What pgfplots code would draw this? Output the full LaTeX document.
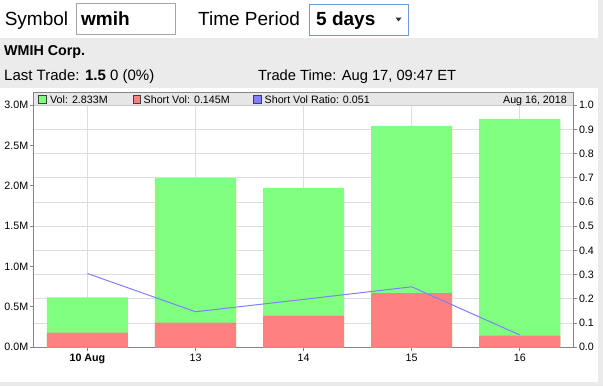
\documentclass[border=0pt]{standalone}
\usepackage{pgfplots}
\pgfplotsset{compat=1.18}
\usepackage{fontspec}
\setmainfont{Liberation Sans}
\definecolor{bggray}{HTML}{EBEBEB}
\definecolor{bandgray}{HTML}{E6E6E6}
\definecolor{gridgray}{HTML}{DDDDDD}
\definecolor{axisgray}{HTML}{858585}
\definecolor{volgreen}{HTML}{80FF80}
\definecolor{shortred}{HTML}{FF8080}
\definecolor{ratioblue}{HTML}{8080FF}
\definecolor{boxgray}{HTML}{A5A5A5}
\definecolor{focusblue}{HTML}{6E9BE0}
\newcommand{\tl}{\fontsize{10.7}{12}\selectfont}
\begin{document}
\begin{tikzpicture}
\begin{scope}[x=1pt,y=-1pt]
\path[use as bounding box] (0,0) rectangle (603,386);
\fill[bggray] (0,0) rectangle (603,386);
\fill[white] (0,0) rectangle (598,37.5);
\fill[white] (0,88) rectangle (598,382);
% header
\node[anchor=base west, inner sep=0, font=\fontsize{19}{22}\selectfont] at (4.6,25) {Symbol};
\draw[boxgray, line width=1pt] (76.5,3.5) rectangle (175.5,34);
\node[anchor=base west, inner sep=0, font=\fontsize{19}{22}\selectfont\bfseries] at (81,25) {wmih};
\node[anchor=base west, inner sep=0, font=\fontsize{19}{22}\selectfont] at (198,25) {Time Period};
\draw[focusblue, line width=1pt] (309.5,4.5) rectangle (408,35.5);
\node[anchor=base west, inner sep=0, font=\fontsize{19}{22}\selectfont\bfseries] at (316,25) {5 days};
\fill[black!80] (395.5,17.5) -- (401.5,17.5) -- (398.5,21.5) -- cycle;
\node[anchor=base west, inner sep=0, font=\fontsize{14.3}{17}\selectfont\bfseries] at (4,55.5) {WMIH Corp.};
\node[anchor=base west, inner sep=0, font=\fontsize{15}{18}\selectfont] at (4,80) {Last Trade: \textbf{1.5} 0 (0\%)};
\node[anchor=base west, inner sep=0, font=\fontsize{14.7}{18}\selectfont] at (258,80) {Trade Time: Aug 17, 09:47 ET};
\end{scope}

\begin{axis}[
  at={(33.4pt,-347.3pt)}, anchor=south west,
  scale only axis, width=540.4pt, height=255.3pt,
  xmin=-0.5, xmax=4.5, ymin=0, ymax=3.165,
  xtick={0,1,2,3,4}, xticklabels={\textbf{10 Aug},13,14,15,16},
  ytick={0,0.5,1,1.5,2,2.5,3},
  yticklabels={0.0M,0.5M,1.0M,1.5M,2.0M,2.5M,3.0M},
  minor ytick={0.3,0.6,0.9,1.2,1.5,1.8,2.1,2.4,2.7},
  xmajorgrids, yminorgrids, ymajorgrids=false,
  grid style={draw=gridgray, line width=1pt},
  minor grid style={draw=gridgray, line width=1pt},
  major grid style={draw=gridgray, line width=1pt},
  minor tick length=0pt, major tick length=3.5pt,
  tick align=outside, xtick pos=bottom, ytick pos=left,
  axis line style={draw=axisgray, line width=1pt},
  major tick style={draw=axisgray, line width=1pt},
  minor tick style={draw=none},
  tick label style={font=\tl},
  yticklabel style={inner sep=1.5pt},
  xticklabel style={inner sep=2pt, yshift=-1pt},
]
\addplot[ybar, bar width=0.75, bar shift=0pt, fill=volgreen, draw=none]
  coordinates {(0,0.620) (1,2.098) (2,1.974) (3,2.746) (4,2.833)};
\addplot[ybar, bar width=0.75, bar shift=0pt, fill=shortred, draw=none]
  coordinates {(0,0.181) (1,0.305) (2,0.392) (3,0.673) (4,0.145)};
\end{axis}

\begin{axis}[
  at={(33.4pt,-347.3pt)}, anchor=south west,
  scale only axis, width=540.4pt, height=255.3pt,
  xmin=-0.5, xmax=4.5, ymin=0, ymax=1.055,
  axis x line=none, axis y line*=right,
  ytick={0,0.1,0.2,0.3,0.4,0.5,0.6,0.7,0.8,0.9,1.0},
  yticklabels={0.0,0.1,0.2,0.3,0.4,0.5,0.6,0.7,0.8,0.9,1.0},
  major tick length=3.5pt, tick align=outside, ytick pos=right,
  axis line style={draw=axisgray, line width=1pt, -},
  major tick style={draw=axisgray, line width=1pt},
  tick label style={font=\tl},
  yticklabel style={inner sep=1.5pt},
]
\addplot[ratioblue, line width=1pt, mark=none]
  coordinates {(0,0.305) (1,0.147) (2,0.198) (3,0.250) (4,0.051)};
\end{axis}

\begin{scope}[x=1pt,y=-1pt]
\fill[bandgray] (33.9,92.5) rectangle (572.8,105.3);
\draw[black!22, line width=1pt] (33.9,105.3) -- (572.8,105.3);
\draw[axisgray, line width=1pt] (33.4,92) -- (573.8,92);
\filldraw[fill=volgreen, draw=black!75, line width=0.8pt] (38.5,95.5) rectangle (46,103);
\node[anchor=base west, inner sep=0, font=\tl] at (50,103) {Vol: 2.833M};
\filldraw[fill=shortred, draw=black!75, line width=0.8pt] (133,95.5) rectangle (140.5,103);
\node[anchor=base west, inner sep=0, font=\tl] at (143.5,103) {Short Vol: 0.145M};
\filldraw[fill=ratioblue, draw=black!75, line width=0.8pt] (253.5,95.5) rectangle (261,103);
\node[anchor=base west, inner sep=0, font=\tl] at (264.5,103) {Short Vol Ratio: 0.051};
\node[anchor=base east, inner sep=0, font=\tl] at (567,103) {Aug 16, 2018};
\end{scope}
\end{tikzpicture}
\end{document}
